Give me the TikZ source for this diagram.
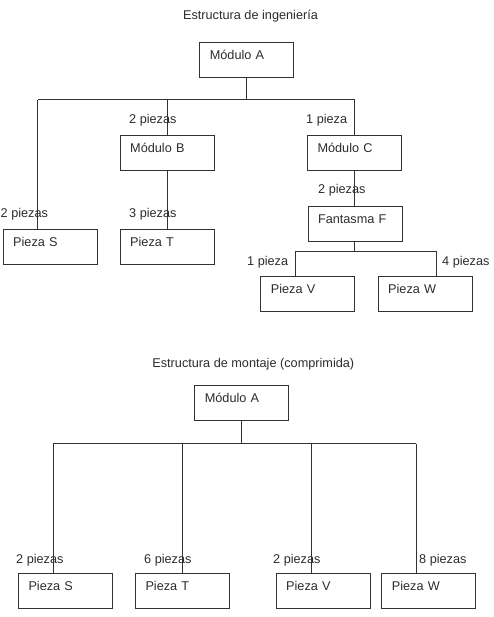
\documentclass[tikz,border=0pt]{standalone}
\usepackage{fontspec}
\setmainfont{Liberation Sans}
\definecolor{ink}{RGB}{45,45,45}
\definecolor{wire}{RGB}{50,50,50}
\begin{document}
\begin{tikzpicture}[x=1pt,y=-1pt,
  every node/.style={font=\fontsize{12.7}{15}\selectfont, text=ink},
  box/.style={draw=wire, line width=1pt, anchor=north west, inner xsep=10pt, inner ysep=0pt,
    text width=74pt, align=left, text height=17pt, text depth=18pt},
  qty/.style={anchor=base west, inner sep=0pt},
  ttl/.style={anchor=base, inner sep=0pt},
  wirest/.style={draw=wire, line width=1pt}]
\useasboundingbox (0,0) rectangle (493,617);
\fill[white] (0,0) rectangle (493,617);

% ---------- Estructura de ingenieria ----------
\node[ttl] (t1) at (250.5,19.5) {Estructura de ingeniería};
\node[box] (A) at (199.3,41.7) {Módulo A};
\node[box] (B) at (119.7,135) {Módulo B};
\node[box] (C) at (307,135) {Módulo C};
\node[box] (S) at (2.7,229) {Pieza S};
\node[box] (T) at (119.7,229) {Pieza T};
\node[box] (F) at (307.5,205.7) {Fantasma F};
\node[box] (V) at (260.3,275.7) {Pieza V};
\node[box] (W) at (377.7,275.7) {Pieza W};

\node[qty] (qB) at (129,123.5) {2 piezas};
\node[qty] (qC) at (306,123.5) {1 pieza};
\node[qty] (qS) at (0.5,217.5) {2 piezas};
\node[qty] (qT) at (129,217.5) {3 piezas};
\node[qty] (qF) at (318,194) {2 piezas};
\node[qty] (qV) at (247,265.5) {1 pieza};
\node[qty] (qW) at (442,265.5) {4 piezas};

\coordinate (bS) at (37.7,100);
\coordinate (bV) at (295.3,251.7);
\coordinate (bW) at (436.7,251.7);

\draw[wirest] (A.south) -- (A.south |- bS);
\draw[wirest] (bS) -- (C.north |- bS);
\draw[wirest] (bS) -- (S.north -| bS);
\draw[wirest] (B.north |- bS) -- (B.north);
\draw[wirest] (C.north |- bS) -- (C.north);
\draw[wirest] (B.south) -- (B.south |- T.north);
\draw[wirest] (C.south) -- (C.south |- F.north);
\draw[wirest] (F.south -| C.south) -- (C.south |- bV);
\draw[wirest] (bV) -- (bW);
\draw[wirest] (bV) -- (V.north -| bV);
\draw[wirest] (bW) -- (W.north -| bW);

% ---------- Estructura de montaje ----------
\node[ttl] (t2) at (253.3,367.5) {Estructura de montaje (comprimida)};
\node[box] (A2) at (194.3,385.3) {Módulo A};
\node[box] (S2) at (18,572.7) {Pieza S};
\node[box] (T2) at (135,572.7) {Pieza T};
\node[box] (V2) at (275.7,572.7) {Pieza V};
\node[box] (W2) at (381.3,572.7) {Pieza W};

\node[qty] (qS2) at (16,563) {2 piezas};
\node[qty] (qT2) at (144,563) {6 piezas};
\node[qty] (qV2) at (273,563) {2 piezas};
\node[qty] (qW2) at (419,563) {8 piezas};

\coordinate (cS) at (53.3,443.7);
\coordinate (cV) at (311.3,443.7);
\coordinate (cW) at (416.3,443.7);

\draw[wirest] (A2.south) -- (A2.south |- cS);
\draw[wirest] (cS) -- (cW);
\draw[wirest] (cS) -- (S2.north -| cS);
\draw[wirest] (T2.north |- cS) -- (T2.north);
\draw[wirest] (cV) -- (V2.north -| cV);
\draw[wirest] (cW) -- (W2.north -| cW);
\end{tikzpicture}
\end{document}
